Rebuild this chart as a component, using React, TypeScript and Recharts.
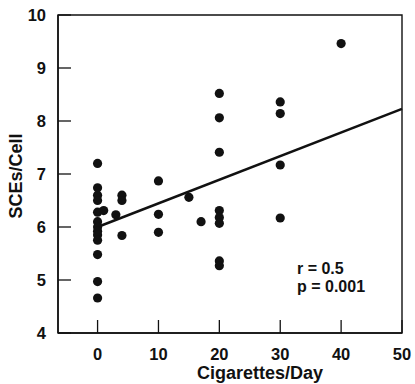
import React from "react";
import {
  ScatterChart,
  Scatter,
  XAxis,
  YAxis,
  ReferenceLine,
  ReferenceArea,
  Label,
} from "recharts";

// Cigarettes per day (x) and SCEs per cell (y)
const xValues = [
  0, 0, 0, 0, 0, 0, 0, 0, 0, 0, 0, 0, 0,
  1, 3,
  4, 4, 4,
  10, 10, 10,
  15, 17,
  20, 20, 20, 20, 20, 20, 20, 20,
  30, 30, 30, 30,
  40,
];
const yValues = [
  7.2, 6.74, 6.6, 6.5, 6.28, 6.1, 6.0, 5.92, 5.85, 5.75, 5.48, 4.97, 4.66,
  6.31, 6.23,
  6.6, 6.5, 5.84,
  6.87, 6.24, 5.9,
  6.56, 6.1,
  8.52, 8.06, 7.41, 6.31, 6.18, 6.07, 5.36, 5.27,
  8.36, 8.14, 7.17, 6.17,
  9.46,
];

const xTicks = [0, 10, 20, 30, 40, 50];
const yTicks = [4, 5, 6, 7, 8, 9, 10];
const xDomain = [-6.5, 50];
const yDomain = [4, 10];

// Regression line end points
const fitX = [0, 50];
const fitY = [6.0, 8.23];

const statLines = ["r = 0.5", "p = 0.001"];

const points = xValues.map((x, i) => ({ x, y: yValues[i] }));

const FONT = "'Liberation Sans', Arial, Helvetica, sans-serif";
const INK = "#111";

const Dot = (props: any) => (
  <circle cx={props.cx} cy={props.cy} r={4.6} fill={INK} />
);

const XTick = (props: any) => {
  const { x, y, payload } = props;
  return (
    <g>
      <line x1={x} x2={x} y1={y} y2={y - 13} stroke={INK} strokeWidth={1.3} />
      <text
        x={x}
        y={y + 27}
        textAnchor="middle"
        fontFamily={FONT}
        fontWeight="bold"
        fontSize={16.5}
        fill={INK}
      >
        {payload.value}
      </text>
    </g>
  );
};

const YTick = (props: any) => {
  const { x, y, payload } = props;
  return (
    <g>
      <line x1={x} x2={x + 13} y1={y} y2={y} stroke={INK} strokeWidth={1.3} />
      <text
        x={x - 12}
        y={y + 6}
        textAnchor="end"
        fontFamily={FONT}
        fontWeight="bold"
        fontSize={16.5}
        fill={INK}
      >
        {payload.value}
      </text>
    </g>
  );
};

export default function App() {
  return (
    <div style={{ position: "absolute", left: 0, top: 0, width: 415, height: 384 }}>
      <ScatterChart
        width={415}
        height={384}
        margin={{ top: 15, right: 13, left: 0, bottom: 0 }}
      >
        <XAxis
          type="number"
          dataKey="x"
          domain={xDomain}
          ticks={xTicks}
          allowDataOverflow
          height={51}
          tickSize={0}
          tickMargin={0}
          tick={<XTick />}
          axisLine={{ stroke: INK, strokeWidth: 1.5 }}
        >
          <Label
            content={(p: any) => {
              const vb = p.viewBox;
              return (
                <text
                  x={vb.x + vb.width * 0.587}
                  y={vb.y + 46}
                  textAnchor="middle"
                  fontFamily={FONT}
                  fontWeight="bold"
                  fontSize={18}
                  fill={INK}
                >
                  Cigarettes/Day
                </text>
              );
            }}
          />
        </XAxis>
        <YAxis
          type="number"
          dataKey="y"
          domain={yDomain}
          ticks={yTicks}
          allowDataOverflow
          width={58}
          tickSize={0}
          tickMargin={0}
          tick={<YTick />}
          axisLine={{ stroke: INK, strokeWidth: 1.5 }}
        >
          <Label
            content={(p: any) => {
              const vb = p.viewBox;
              const cx = vb.x + 16;
              const cy = vb.y + vb.height / 2 + 2;
              return (
                <text
                  x={cx}
                  y={cy}
                  transform={`rotate(-90 ${cx} ${cy})`}
                  textAnchor="middle"
                  dominantBaseline="central"
                  fontFamily={FONT}
                  fontWeight="bold"
                  fontSize={18}
                  fill={INK}
                >
                  SCEs/Cell
                </text>
              );
            }}
          />
        </YAxis>
        <ReferenceArea
          x1={xDomain[0]}
          x2={xDomain[1]}
          y1={yDomain[0]}
          y2={yDomain[1]}
          fill="none"
          fillOpacity={0}
          stroke={INK}
          strokeWidth={1.4}
          ifOverflow="visible"
        />
        <ReferenceLine
          segment={[
            { x: fitX[0], y: fitY[0] },
            { x: fitX[1], y: fitY[1] },
          ]}
          stroke={INK}
          strokeWidth={2.5}
          ifOverflow="visible"
        />
        <Scatter
          data={points}
          shape={<Dot />}
          isAnimationActive={false}
        />
      </ScatterChart>
      <div
        style={{
          position: "absolute",
          left: 297,
          top: 260,
          fontFamily: FONT,
          fontWeight: "bold",
          fontSize: 16,
          lineHeight: "18.3px",
          color: INK,
          whiteSpace: "pre",
        }}
      >
        {statLines.map((s) => (
          <div key={s}>{s}</div>
        ))}
      </div>
    </div>
  );
}
